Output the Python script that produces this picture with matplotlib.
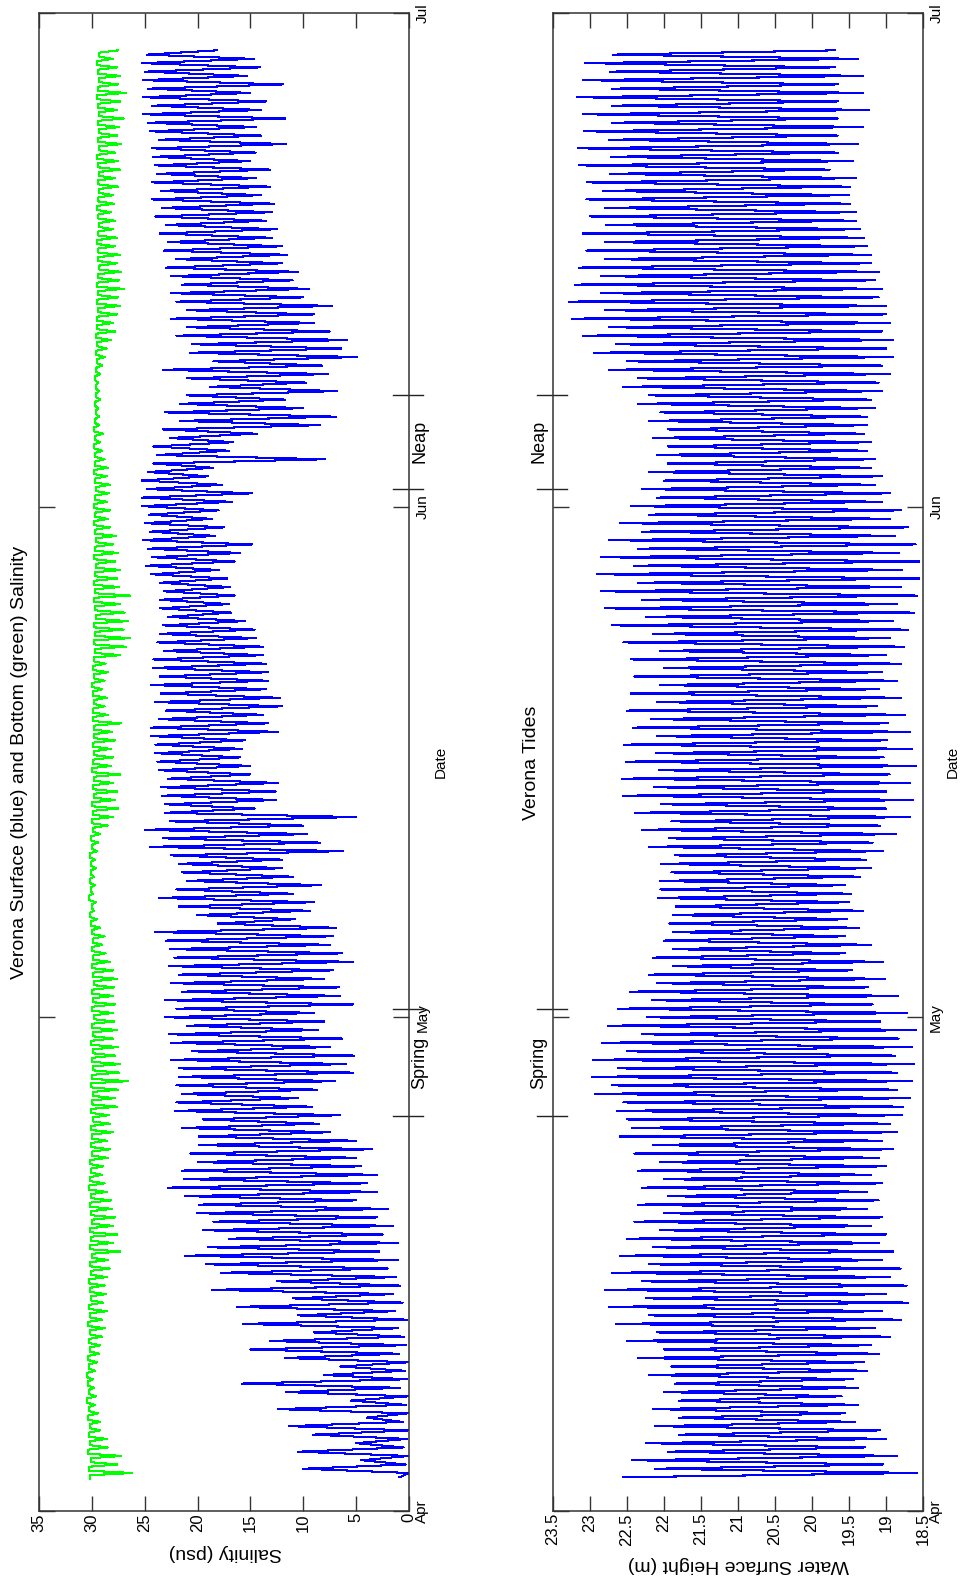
import numpy as np
import matplotlib
matplotlib.use("Agg")
import matplotlib.pyplot as plt
import matplotlib.transforms as mtransforms

plt.rcParams['font.family'] = ['Liberation Sans', 'DejaVu Sans']

# time axis: days since 1 Apr, one high and one low per tidal cycle
first_tide_day = 2.05
tide_period = 0.5175

date_ticks = [0, 30, 61, 91]
month_labels = ['Apr', 'May', 'Jun', 'Jul']
spring_days = [24.0, 30.5]
neap_days = [62.1, 67.8]

sal_ticks = [0, 5, 10, 15, 20, 25, 30, 35]
tide_ticks = [18.5, 19, 19.5, 20, 20.5, 21, 21.5, 22, 22.5, 23, 23.5]

# water surface height (m), high and low water of each tide
tide_high = [
    22.55, 22.12, 22.43, 21.95, 22.25, 21.80, 22.12, 21.80,
    22.15, 21.80, 22.00, 21.85, 22.20, 21.90, 22.35, 22.00,
    22.50, 22.10, 22.65, 22.20, 22.75, 22.25, 22.80, 22.30,
    22.70, 22.20, 22.60, 22.15, 22.50, 22.05, 22.40, 22.00,
    22.35, 21.95, 22.30, 22.00, 22.35, 22.05, 22.40, 22.15,
    22.60, 22.43, 22.50, 22.64, 22.55, 22.93, 22.70, 22.97,
    22.62, 22.96, 22.50, 22.84, 22.30, 22.76, 22.23, 22.62,
    22.16, 22.46, 22.10, 22.20, 21.88, 22.15, 21.88, 22.00,
    21.88, 21.93, 21.88, 21.84, 22.08, 22.05, 22.05, 21.90,
    22.04, 21.85, 22.20, 21.93, 22.30, 21.90, 22.39, 22.04,
    22.55, 22.14, 22.57, 22.07, 22.51, 22.11, 22.54, 22.10,
    22.42, 22.18, 22.50, 22.10, 22.45, 22.05, 22.40, 22.00,
    22.45, 22.05, 22.55, 22.15, 22.70, 22.25, 22.80, 22.30,
    22.85, 22.35, 22.90, 22.40, 22.85, 22.35, 22.75, 22.30,
    22.60, 22.20, 22.45, 22.10, 22.30, 22.00, 22.20, 21.95,
    22.10, 21.95, 22.15, 21.95, 22.20, 22.05, 22.35, 22.20,
    22.55, 22.35, 22.75, 22.50, 22.95, 22.65, 23.10, 22.75,
    23.25, 22.80, 23.28, 22.85, 23.20, 22.85, 23.15, 22.80,
    23.05, 22.80, 23.10, 22.78, 23.00, 22.80, 23.05, 22.82,
    23.04, 22.73, 23.15, 22.72, 23.16, 22.74, 23.08, 22.70,
    23.10, 22.70, 23.18, 22.70, 23.10, 22.73, 23.07, 22.69,
]
tide_low = [
    18.58, 19.04, 18.85, 19.28, 19.00, 19.08, 19.42, 19.55,
    19.38, 19.60, 19.38, 19.45, 19.25, 19.30, 19.10, 19.20,
    18.95, 19.15, 18.80, 19.05, 18.70, 19.00, 18.72, 18.95,
    18.80, 19.05, 18.90, 19.10, 19.00, 19.20, 19.05, 19.25,
    19.10, 19.25, 19.05, 19.20, 19.00, 19.10, 18.90, 19.05,
    18.85, 18.95, 18.78, 18.77, 18.68, 18.85, 18.65, 18.85,
    18.62, 18.88, 18.65, 18.83, 18.60, 19.08, 18.72, 19.18,
    18.84, 19.24, 19.01, 19.46, 19.04, 19.55, 19.20, 19.55,
    19.37, 19.53, 19.31, 19.50, 19.47, 19.55, 19.35, 19.20,
    19.27, 19.04, 19.18, 18.87, 19.08, 18.68, 19.00, 18.64,
    19.00, 18.68, 18.95, 18.60, 19.03, 18.65, 18.98, 18.68,
    18.97, 18.74, 19.12, 18.80, 19.10, 18.85, 19.05, 18.80,
    19.00, 18.75, 18.95, 18.70, 18.90, 18.62, 18.85, 18.58,
    18.80, 18.55, 18.78, 18.55, 18.82, 18.60, 18.88, 18.70,
    18.95, 18.80, 19.05, 18.95, 19.15, 19.05, 19.20, 19.15,
    19.25, 19.20, 19.30, 19.25, 19.25, 19.15, 19.20, 19.05,
    19.10, 18.95, 19.05, 18.90, 19.00, 18.90, 19.05, 18.95,
    19.00, 19.00, 19.10, 19.05, 19.15, 19.10, 19.20, 19.20,
    19.25, 19.30, 19.35, 19.40, 19.40, 19.48, 19.50, 19.49,
    19.40, 19.76, 19.45, 19.65, 19.38, 19.65, 19.31, 19.65,
    19.23, 19.65, 19.31, 19.65, 19.31, 19.69, 19.38, 19.69,
]

# surface salinity (psu), flood and ebb values of each tide
surf_high = [
    0.9, 10.0, 4.5, 10.5, 5.0, 9.1, 11.4, 4.0,
    12.4, 5.5, 11.6, 15.8, 8.0, 6.5, 11.7, 15.0,
    13.2, 9.0, 15.7, 10.5, 16.3, 11.0, 18.6, 12.5,
    17.8, 19.2, 21.2, 19.0, 17.0, 19.5, 18.5, 20.1,
    19.9, 21.2, 22.8, 21.3, 21.5, 20.0, 20.7, 19.9,
    19.9, 21.5, 19.5, 22.1, 22.0, 21.5, 22.0, 21.8,
    21.8, 22.5, 20.5, 22.5, 22.7, 21.0, 23.1, 22.0,
    23.1, 21.5, 22.5, 21.8, 22.7, 22.2, 22.6, 23.0,
    24.0, 18.1, 20.1, 21.8, 23.7, 22.0, 21.0, 21.5,
    21.8, 22.5, 24.5, 23.3, 25.0, 22.6, 23.1, 23.1,
    23.4, 23.5, 22.8, 23.7, 23.8, 24.0, 24.0, 24.4,
    24.4, 23.7, 23.0, 24.0, 23.5, 24.4, 23.6, 24.2,
    24.2, 23.2, 23.8, 23.6, 23.3, 22.8, 23.6, 23.6,
    23.2, 23.6, 24.4, 24.9, 24.3, 24.7, 25.2, 24.5,
    25.0, 24.6, 25.3, 25.3, 24.8, 25.3, 24.7, 24.2,
    23.8, 24.2, 22.6, 23.3, 21.7, 23.1, 21.7, 21.0,
    18.8, 21.0, 23.3, 18.5, 20.7, 20.5, 22.0, 21.0,
    22.5, 21.0, 22.0, 22.5, 21.5, 22.5, 23.0, 22.0,
    23.2, 22.8, 23.6, 23.0, 24.0, 23.4, 24.3, 23.5,
    24.3, 23.8, 24.0, 24.2, 24.3, 23.7, 24.5, 24.7,
    25.2, 24.3, 25.2, 24.7, 25.2, 25.0, 25.3, 24.8,
]
surf_low = [
    0.0, 0.3, 0.0, 0.5, 0.2, 0.0, 0.6, 0.1,
    0.3, 0.0, 0.8, 0.2, 0.4, 0.0, 0.9, 0.3,
    0.5, 1.0, 0.2, 1.3, 0.6, 1.5, 0.8, 1.2,
    2.0, 1.0, 2.8, 1.0, 2.5, 1.5, 3.0, 2.0,
    5.0, 3.0, 4.0, 3.0, 4.5, 5.0, 3.5, 5.0,
    7.5, 8.5, 6.5, 9.2, 10.5, 8.7, 7.0, 5.3,
    6.0, 5.2, 7.5, 6.3, 8.6, 8.0, 9.0, 5.3,
    6.5, 6.6, 8.0, 7.2, 5.3, 6.3, 7.5, 7.2,
    6.9, 10.8, 9.4, 9.0, 11.0, 8.3, 11.0, 12.0,
    12.0, 6.2, 8.4, 9.6, 10.0, 5.0, 14.6, 12.6,
    12.6, 12.4, 15.0, 15.0, 16.0, 15.8, 15.5, 12.4,
    13.3, 13.8, 12.0, 12.2, 13.5, 13.3, 13.3, 13.5,
    13.8, 13.8, 14.5, 14.6, 15.5, 16.8, 17.0, 16.5,
    16.9, 17.2, 18.0, 16.5, 16.0, 14.8, 18.3, 17.5,
    18.6, 18.0, 16.7, 14.8, 17.7, 19.0, 18.5, 7.9,
    17.0, 16.6, 14.4, 8.4, 6.9, 10.0, 11.7, 6.8,
    9.7, 7.7, 8.2, 4.9, 6.4, 5.9, 7.5, 9.0,
    9.0, 7.3, 10.0, 9.5, 11.0, 10.5, 12.0, 11.5,
    12.0, 13.0, 12.5, 13.5, 13.0, 12.8, 14.0, 13.1,
    14.5, 13.1, 15.0, 14.5, 11.6, 14.0, 14.5, 11.7,
    14.0, 13.5, 15.0, 11.9, 15.3, 14.1, 14.7, 18.2,
]

# bottom salinity (psu): resting value and short dip of each tide
bot_high = [
    30.2, 30.3, 30.1, 30.4, 30.2, 30.3, 30.2, 30.4,
    30.3, 30.5, 30.3, 30.4, 30.5, 30.3, 30.4, 30.2,
    30.3, 30.2, 30.4, 30.2, 30.3, 30.1, 30.2, 30.3,
    30.1, 30.2, 30.0, 30.2, 30.1, 30.2, 30.0, 30.1,
    30.2, 30.1, 30.3, 30.2, 30.1, 30.2, 30.0, 30.1,
    30.0, 30.1, 29.9, 30.1, 30.0, 29.9, 30.1, 30.0,
    29.9, 30.0, 29.9, 30.1, 29.9, 30.0, 29.8, 30.0,
    29.9, 30.0, 29.8, 29.9, 30.0, 29.9, 30.0, 29.9,
    30.0, 30.1, 30.2, 30.0, 30.3, 30.1, 30.2, 30.1,
    30.1, 30.2, 30.0, 30.1, 29.9, 30.0, 29.9, 30.0,
    29.8, 29.9, 29.8, 30.0, 29.9, 29.8, 29.9, 29.8,
    29.8, 29.9, 29.9, 29.8, 29.9, 30.0, 29.8, 29.9,
    29.8, 29.7, 29.8, 29.7, 29.8, 29.6, 29.7, 29.8,
    29.7, 29.8, 29.7, 29.6, 29.8, 29.7, 29.6, 29.7,
    29.8, 29.7, 29.8, 29.7, 29.6, 29.7, 29.8, 29.7,
    29.7, 29.8, 29.7, 29.8, 29.7, 29.6, 29.7, 29.6,
    29.6, 29.7, 29.6, 29.5, 29.6, 29.5, 29.6, 29.5,
    29.5, 29.4, 29.5, 29.4, 29.5, 29.4, 29.3, 29.4,
    29.4, 29.5, 29.4, 29.3, 29.4, 29.5, 29.4, 29.3,
    29.4, 29.3, 29.4, 29.5, 29.3, 29.4, 29.3, 29.4,
    29.3, 29.4, 29.5, 29.4, 29.3, 29.4, 29.5, 29.3,
]
bot_low = [
    26.2, 27.6, 27.2, 28.5, 28.6, 29.2, 29.2, 29.4,
    29.7, 29.6, 29.8, 29.9, 29.7, 29.5, 29.3, 29.2,
    29.0, 28.8, 29.0, 28.6, 28.9, 28.7, 28.8, 28.6,
    28.3, 28.5, 27.3, 28.0, 27.6, 28.0, 27.8, 28.1,
    28.2, 28.6, 28.8, 29.0, 28.9, 28.5, 28.3, 28.6,
    28.0, 28.3, 28.4, 27.6, 27.8, 27.5, 26.6, 27.4,
    27.3, 27.8, 27.5, 28.0, 27.6, 27.9, 28.0, 27.8,
    28.0, 27.9, 27.6, 28.0, 28.3, 28.7, 29.0, 28.8,
    29.2, 29.5, 29.8, 29.6, 29.9, 29.7, 29.8, 29.6,
    29.7, 29.5, 29.4, 29.2, 28.5, 28.0, 27.5, 27.8,
    27.6, 28.0, 27.3, 28.2, 28.0, 28.2, 27.8, 28.1,
    27.2, 28.5, 28.8, 28.6, 29.0, 28.8, 28.5, 28.7,
    27.3, 26.8, 26.4, 27.0, 26.6, 26.9, 27.3, 26.4,
    27.4, 27.6, 27.3, 27.8, 27.5, 28.0, 27.7, 28.3,
    28.5, 28.3, 28.6, 28.4, 28.3, 28.6, 28.5, 28.8,
    29.0, 29.2, 28.9, 29.3, 29.3, 29.4, 29.2, 29.3,
    29.4, 29.2, 29.0, 28.8, 28.6, 28.2, 27.8, 28.0,
    27.6, 27.3, 27.5, 27.0, 27.4, 27.2, 27.6, 27.3,
    27.8, 27.6, 28.0, 27.8, 28.2, 27.9, 28.0, 27.5,
    27.8, 27.3, 27.5, 27.8, 27.2, 27.6, 27.4, 27.0,
    27.6, 27.3, 26.8, 27.5, 27.3, 27.6, 28.0, 27.5,
]


def interleave(*cols):
    cols = [np.asarray(c, dtype=float) for c in cols]
    out = np.empty(len(cols) * len(cols[0]))
    for i, c in enumerate(cols):
        out[i::len(cols)] = c
    return out


t_high = first_tide_day + tide_period * np.arange(len(tide_high))
t_low = t_high + tide_period / 2
days = interleave(t_high, t_low)

# bottom salinity rests at its flood value and dips briefly at ebb
bot_days = interleave(t_high - 0.12, t_high + 0.12, t_low)
bot_vals = interleave(bot_high, bot_high, bot_low)

W, H = 964, 1579
fig = plt.figure(figsize=(W / 100, H / 100), dpi=100)


def fx(x):
    return x / W


def fy(y):
    return 1 - y / H


def style_axes(ax, xticks, xlabels, xlim):
    ax.set_xlim(*xlim)
    ax.set_ylim(date_ticks[0], date_ticks[-1])
    ax.set_xticks(xticks)
    ax.set_xticklabels(xlabels)
    ax.set_yticks(date_ticks)
    ax.set_yticklabels(month_labels)
    ax.tick_params(axis='x', direction='in', length=11, width=1, top=True,
                   bottom=True, labelrotation=90, labelsize=12, pad=1.5,
                   color='#333333')
    ax.tick_params(axis='y', direction='in', length=11.5, width=1, left=True,
                   right=True, labelleft=False, labelright=True,
                   labelrotation=90, labelsize=11, pad=4.5, color='#333333')
    for lab in ax.get_yticklabels():
        lab.set_va('center')
    for s in ax.spines.values():
        s.set_linewidth(1.1)
        s.set_color('#333333')


def markers(ax, x0, x1, xt):
    tr = mtransforms.blended_transform_factory(ax.transAxes, ax.transData)
    for d in spring_days + neap_days:
        ax.plot([x0, x1], [d, d], transform=tr, color='#222222', lw=1,
                clip_on=False)
    ax.text(xt, np.mean(spring_days), 'Spring', rotation=90, ha='center',
            va='center', transform=tr, fontsize=13)
    ax.text(xt, np.mean(neap_days), 'Neap', rotation=90, ha='center',
            va='center', transform=tr, fontsize=13)


# salinity panel
ax1 = fig.add_axes([fx(39), fy(1511), (409 - 39) / W, (1511 - 13) / H])
ax1.plot(interleave(surf_high, surf_low), days, color='#0000ff', lw=0.75,
         antialiased=False)
ax1.plot(bot_vals, bot_days, color='#00ff00', lw=0.75, antialiased=False)
style_axes(ax1, sal_ticks, [str(v) for v in sal_ticks], (35, 0))
markers(ax1, 0.957, 1.038, 1.030)

# tides panel
ax2 = fig.add_axes([fx(553), fy(1511), (923 - 553) / W, (1511 - 13) / H])
ax2.plot(interleave(tide_high, tide_low), days, color='#0000ff', lw=0.75,
         antialiased=False)
style_axes(ax2, tide_ticks, ['%g' % v for v in tide_ticks], (23.5, 18.5))
markers(ax2, -0.043, 0.038, -0.038)

fig.text(fx(20), fy(762), 'Verona Surface (blue) and Bottom (green) Salinity',
         rotation=90, ha='center', va='center', fontsize=14)
fig.text(fx(225), fy(1553), 'Salinity (psu)', rotation=180, ha='center',
         va='center', fontsize=14)
fig.text(fx(441), fy(762), 'Date', rotation=90, ha='center', va='center',
         fontsize=11)
fig.text(fx(531), fy(763), 'Verona Tides', rotation=90, ha='center',
         va='center', fontsize=14)
fig.text(fx(738), fy(1565), 'Water Surface Height (m)', rotation=180,
         ha='center', va='center', fontsize=14)
fig.text(fx(953), fy(762), 'Date', rotation=90, ha='center', va='center',
         fontsize=11)

fig.savefig('out.png', dpi=100)
